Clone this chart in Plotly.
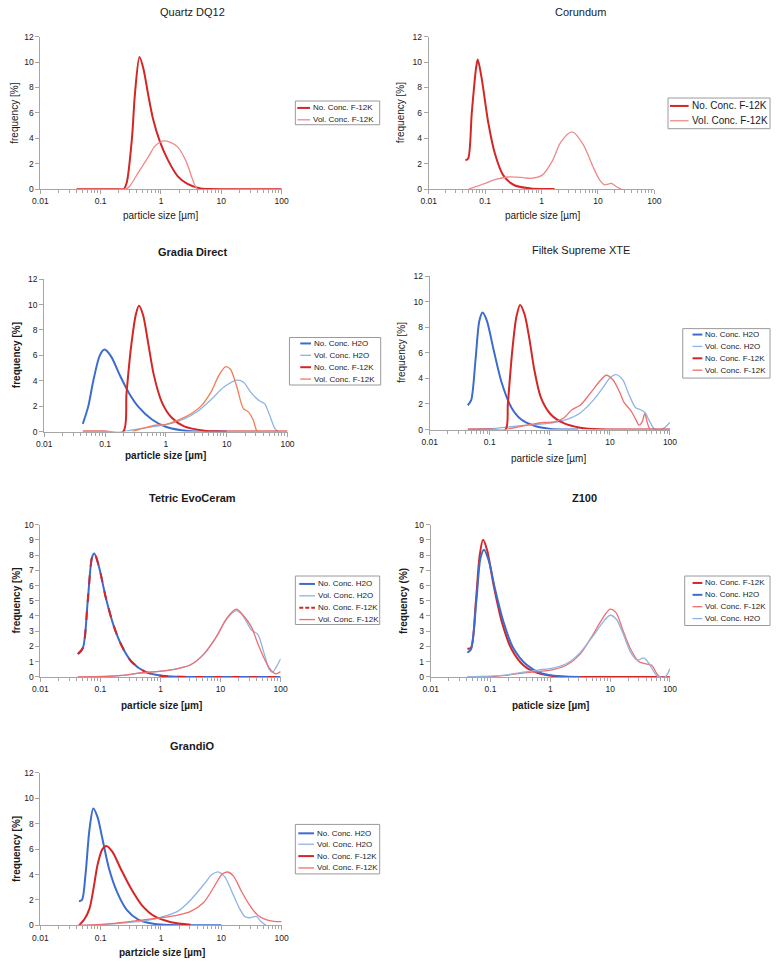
import plotly.graph_objects as go

# ---------------- data (particle size in µm, frequency in %) ----------------
# Quartz DQ12
q_no_f12k_x = [0.04, 0.1, 0.2, 0.24, 0.27, 0.33, 0.37, 0.44, 0.51, 0.61, 0.74, 0.95, 1.3, 1.9, 2.75, 4.5, 10, 30, 100]
q_no_f12k_y = [0, 0, 0, 0, 0.5, 4.0, 7.5, 10.4, 9.5, 7.5, 5.5, 3.8, 2.3, 1.0, 0.4, 0.05, 0, 0, 0]
q_vol_f12k_x = [0.04, 0.1, 0.2, 0.26, 0.3, 0.42, 0.61, 0.8, 1.05, 1.4, 1.9, 2.6, 3.5, 4.0, 10, 30, 100]
q_vol_f12k_y = [0, 0, 0, 0, 0.2, 1.3, 2.5, 3.4, 3.78, 3.7, 3.3, 2.2, 0.5, 0, 0, 0, 0]

# Corundum
c_no_f12k_x = [0.0448, 0.05, 0.058, 0.069, 0.074, 0.087, 0.114, 0.149, 0.209, 0.33, 0.65, 1.0, 1.7]
c_no_f12k_y = [2.27, 2.4, 6.0, 9.5, 10.2, 8.7, 5.2, 2.8, 1.1, 0.3, 0.05, 0.01, 0]
c_vol_f12k_x = [0.051, 0.1, 0.149, 0.255, 0.44, 0.65, 1.03, 1.55, 2.2, 3.5, 5.5, 8.3, 10.8, 13.2, 17.3, 21, 25.9]
c_vol_f12k_y = [0, 0.45, 0.75, 0.95, 0.92, 0.85, 1.1, 2.2, 3.7, 4.5, 3.5, 1.7, 0.7, 0.33, 0.45, 0.2, 0]

# Gradia Direct
g_no_h2o_x = [0.043, 0.053, 0.064, 0.082, 0.098, 0.126, 0.172, 0.249, 0.36, 0.59, 0.97, 1.8, 2.6, 5, 10]
g_no_h2o_y = [0.6, 2.0, 4.0, 6.0, 6.45, 5.9, 4.5, 3.0, 1.9, 0.95, 0.4, 0.1, 0.02, 0, 0]
g_vol_h2o_x = [0.19, 0.36, 0.67, 1.24, 2.0, 3.35, 5.5, 9.0, 14.7, 18.8, 25.7, 35, 42, 50.7, 61, 69]
g_vol_h2o_y = [0, 0.2, 0.4, 0.65, 1.0, 1.6, 2.5, 3.5, 4.05, 3.9, 3.0, 2.4, 2.2, 1.3, 0.3, 0]
g_no_f12k_x = [0.043, 0.1, 0.199, 0.225, 0.265, 0.32, 0.36, 0.42, 0.51, 0.63, 0.86, 1.24, 2.0, 4.3, 7.9, 20, 100]
g_no_f12k_y = [0, 0, 0, 3.0, 6.5, 9.2, 9.9, 9.2, 7.0, 4.5, 2.3, 1.1, 0.4, 0.07, 0.01, 0, 0]
g_vol_f12k_x = [0.28, 0.46, 0.67, 0.97, 1.59, 2.6, 3.78, 5.5, 7.4, 9.5, 11.5, 14.7, 18.8, 22.7, 27.3, 30.9, 32.8]
g_vol_f12k_y = [0, 0.3, 0.5, 0.55, 0.9, 1.4, 2.0, 3.1, 4.4, 5.1, 4.9, 3.5, 1.8, 1.55, 0.9, 0.1, 0]

# Filtek Supreme XTE
f_no_h2o_x = [0.043, 0.049, 0.058, 0.067, 0.076, 0.0896, 0.115, 0.157, 0.23, 0.33, 0.55, 1.03, 1.93, 3.0]
f_no_h2o_y = [1.9, 2.3, 5.5, 8.5, 9.15, 8.5, 6.3, 3.7, 1.7, 0.8, 0.3, 0.05, 0, 0]
f_vol_h2o_x = [0.043, 0.095, 0.157, 0.33, 0.625, 1.17, 1.93, 3.2, 5.3, 7.7, 9.8, 12.6, 16.3, 20.9, 26.9, 32.4, 39, 44, 53.5, 58, 73, 100]
f_vol_h2o_y = [0, 0.05, 0.15, 0.3, 0.4, 0.55, 0.8, 1.3, 2.3, 3.3, 4.0, 4.3, 3.9, 2.7, 1.7, 1.55, 1.3, 0.8, 0.1, 0, 0, 0.55]
f_no_f12k_x = [0.043, 0.1, 0.183, 0.2, 0.235, 0.277, 0.32, 0.38, 0.46, 0.55, 0.71, 1.03, 1.7, 3.2, 6.8, 20, 100]
f_no_f12k_y = [0, 0, 0, 2.0, 6.0, 8.8, 9.75, 9.0, 7.0, 4.7, 2.5, 1.2, 0.5, 0.15, 0.02, 0, 0]
f_vol_f12k_x = [0.18, 0.33, 0.55, 0.8, 1.17, 1.7, 2.33, 3.2, 4.65, 6.8, 8.7, 11.2, 14.3, 17.3, 22.2, 26.9, 30.4, 34.4, 38, 41.6, 47, 100]
f_vol_f12k_y = [0, 0.25, 0.45, 0.55, 0.6, 0.9, 1.55, 1.9, 2.8, 3.8, 4.25, 3.9, 3.0, 2.1, 1.5, 0.8, 0.35, 0.6, 1.25, 0.6, 0, 0]

# Tetric EvoCeram
t_no_h2o_x = [0.042, 0.051, 0.0615, 0.072, 0.079, 0.095, 0.123, 0.168, 0.229, 0.33, 0.55, 1.03, 1.93, 5, 20, 100]
t_no_h2o_y = [1.5, 1.9, 5.0, 7.8, 8.1, 7.2, 5.2, 3.3, 2.0, 1.0, 0.35, 0.08, 0.01, 0, 0, 0]
t_no_f12k_x = [0.042, 0.051, 0.0615, 0.072, 0.079, 0.095, 0.123, 0.168, 0.229, 0.33, 0.55, 1.03, 1.93, 5, 20, 100]
t_no_f12k_y = [1.5, 1.9, 5.0, 7.8, 8.15, 7.2, 5.2, 3.3, 2.0, 1.0, 0.35, 0.08, 0.01, 0, 0, 0]
t_vol_h2o_x = [0.042, 0.123, 0.229, 0.43, 1.03, 1.93, 3.18, 5.26, 8.7, 12.6, 18.4, 23.7, 32.4, 41.6, 53.5, 64.6, 73, 83, 100]
t_vol_h2o_y = [0, 0.03, 0.1, 0.25, 0.38, 0.55, 0.8, 1.5, 2.7, 3.8, 4.35, 4.0, 3.1, 2.8, 1.5, 0.5, 0.3, 0.6, 1.2]
t_vol_f12k_x = [0.042, 0.123, 0.229, 0.43, 1.03, 1.93, 3.18, 5.26, 8.7, 12.6, 18.4, 23.7, 32.4, 41.6, 53.5, 64.6, 73, 83, 100]
t_vol_f12k_y = [0, 0.03, 0.1, 0.25, 0.38, 0.55, 0.8, 1.5, 2.7, 3.85, 4.45, 4.05, 3.3, 2.2, 1.2, 0.6, 0.35, 0.2, 0.35]

# Z100
z_no_f12k_x = [0.041, 0.047, 0.057, 0.066, 0.075, 0.088, 0.113, 0.155, 0.226, 0.37, 0.62, 1.16, 2.45, 10, 100]
z_no_f12k_y = [1.85, 1.9, 5.0, 8.0, 9.0, 8.3, 6.0, 3.6, 1.8, 0.7, 0.25, 0.05, 0, 0, 0]
z_no_h2o_x = [0.041, 0.047, 0.058, 0.068, 0.078, 0.094, 0.12, 0.165, 0.24, 0.40, 0.7, 1.49, 3.15]
z_no_h2o_y = [1.6, 1.8, 5.0, 7.8, 8.35, 7.6, 5.7, 3.6, 1.9, 0.8, 0.25, 0.04, 0]
z_vol_f12k_x = [0.041, 0.094, 0.175, 0.33, 0.62, 1.16, 1.91, 3.15, 5.2, 7.6, 10, 12.6, 16.2, 22.1, 30.3, 41.5, 50, 60.5, 68.5, 100]
z_vol_f12k_y = [0, 0.02, 0.1, 0.25, 0.35, 0.5, 0.8, 1.5, 2.8, 3.9, 4.45, 4.2, 3.1, 1.8, 1.0, 0.85, 0.75, 0.2, 0, 0]
z_vol_h2o_x = [0.041, 0.175, 0.33, 0.62, 1.16, 1.91, 3.15, 5.2, 7.6, 10, 12.6, 16.2, 22.1, 28.5, 36.6, 44.3, 56.8, 64, 83, 100]
z_vol_h2o_y = [0, 0.12, 0.3, 0.45, 0.6, 0.9, 1.6, 2.7, 3.6, 4.05, 3.8, 2.9, 1.6, 1.1, 1.25, 0.9, 0.2, 0, 0, 0.55]

# GrandiO
gr_no_h2o_x = [0.0436, 0.049, 0.056, 0.065, 0.0755, 0.089, 0.107, 0.137, 0.188, 0.273, 0.42, 0.79, 1.47, 3.1, 10]
gr_no_h2o_y = [1.9, 2.0, 4.0, 7.5, 9.2, 8.5, 6.8, 4.5, 2.6, 1.2, 0.45, 0.1, 0.02, 0, 0]
gr_vol_h2o_x = [0.0436, 0.121, 0.256, 0.54, 1.01, 1.89, 3.1, 5.1, 7.0, 9.0, 11.5, 15.8, 20.2, 24.4, 29.4, 37.8, 45.6, 55]
gr_vol_h2o_y = [0, 0.08, 0.2, 0.35, 0.65, 1.1, 2.0, 3.2, 4.0, 4.2, 3.8, 2.4, 1.3, 0.7, 0.6, 0.7, 0.3, 0]
gr_no_f12k_x = [0.0436, 0.054, 0.065, 0.0755, 0.089, 0.107, 0.124, 0.156, 0.213, 0.31, 0.48, 0.79, 1.47, 3.1]
gr_no_f12k_y = [0, 0.5, 1.3, 2.8, 4.8, 6.0, 6.25, 5.8, 4.5, 3.0, 1.6, 0.7, 0.25, 0.05]
gr_vol_f12k_x = [0.0436, 0.121, 0.256, 0.54, 1.01, 1.89, 3.1, 5.1, 7.5, 10.2, 12.6, 15.8, 21.5, 29.4, 40.2, 55, 75, 100]
gr_vol_f12k_y = [0, 0.1, 0.25, 0.45, 0.6, 0.8, 1.1, 1.8, 3.0, 4.0, 4.2, 3.9, 2.7, 1.6, 0.8, 0.45, 0.32, 0.3]

x_tick_vals = [0.01, 0.1, 1, 10, 100]
x_tick_text = ["0.01", "0.1", "1", "10", "100"]

# ---------------- styling ----------------
W, H = 778, 965
FONT = "Arial, Liberation Sans, sans-serif"
TXT = "#1a1a1a"
AX = "#a6a6a6"
NO_F = "#d42626"
VOL_F_LIGHT = "#ee8a8a"
VOL_F_ORANGE = "#f07d55"
VOL_F = "#ef6e6e"
NO_H = "#3c6ccf"
VOL_H = "#8fb4e3"


def px(x):
    return x / W


def py(y):
    return 1 - y / H


minor_vals = [m * 10.0 ** e for e in range(-2, 2) for m in range(2, 10)]

panels = [
    dict(title="Quartz DQ12", bold=False, box=(33, 279, 32, 186), ymax=12, dy=2,
         ylab="frequency [%]", xlab="particle size [µm]", tpos=(188, 7), xlpos=(156, 213), ylx=7,
         leg=(293, 379, 97, 121), rows=[104, 116], samp=(295, 308), lfs=8,
         traces=[("No. Conc. F-12K", q_no_f12k_x, q_no_f12k_y, NO_F, 2, "solid"),
                 ("Vol. Conc. F-12K", q_vol_f12k_x, q_vol_f12k_y, VOL_F_LIGHT, 1.3, "solid")]),
    dict(title="Corundum", bold=False, box=(429, 659, 32, 186), ymax=12, dy=2,
         ylab="frequency [%]", xlab="particle size [µm]", tpos=(584, 7), xlpos=(545, 213), ylx=401,
         leg=(673, 777, 94, 125), rows=[102, 117], samp=(675, 694), lfs=10,
         traces=[("No. Conc. F-12K", c_no_f12k_x, c_no_f12k_y, NO_F, 2, "solid"),
                 ("Vol. Conc. F-12K", c_vol_f12k_x, c_vol_f12k_y, VOL_F_LIGHT, 1.3, "solid")]),
    dict(title="Gradia Direct", bold=True, box=(37, 285, 277, 431), ymax=12, dy=2,
         ylab="frequency [%]", xlab="particle size [µm]", tpos=(188, 250), xlpos=(161, 455), ylx=9,
         leg=(287, 380, 336, 384), rows=[342, 354, 366, 378], samp=(298, 309), lfs=8,
         traces=[("No. Conc. H2O", g_no_h2o_x, g_no_h2o_y, NO_H, 2, "solid"),
                 ("Vol. Conc. H2O", g_vol_h2o_x, g_vol_h2o_y, VOL_H, 1.3, "solid"),
                 ("No. Conc. F-12K", g_no_f12k_x, g_no_f12k_y, NO_F, 2, "solid"),
                 ("Vol. Conc. F-12K", g_vol_f12k_x, g_vol_f12k_y, VOL_F_ORANGE, 1.3, "solid")]),
    dict(title="Filtek Supreme XTE", bold=False, box=(430, 675, 274, 429), ymax=12, dy=2,
         ylab="frequency [%]", xlab="particle size [µm]", tpos=(584, 248), xlpos=(551, 458), ylx=402,
         leg=(688, 777, 327, 377), rows=[333, 345, 357, 369], samp=(698, 708), lfs=8,
         traces=[("No. Conc. H2O", f_no_h2o_x, f_no_h2o_y, NO_H, 2, "solid"),
                 ("Vol. Conc. H2O", f_vol_h2o_x, f_vol_h2o_y, VOL_H, 1.3, "solid"),
                 ("No. Conc. F-12K", f_no_f12k_x, f_no_f12k_y, NO_F, 2, "solid"),
                 ("Vol. Conc. F-12K", f_vol_f12k_x, f_vol_f12k_y, VOL_F, 1.3, "solid")]),
    dict(title="Tetric EvoCeram", bold=True, box=(33, 278, 525, 679), ymax=10, dy=1,
         ylab="frequency [%]", xlab="particle size [µm]", tpos=(188, 498), xlpos=(157, 708), ylx=9,
         leg=(293, 379, 577, 626), rows=[585, 597, 609, 621], samp=(297, 313), lfs=8,
         traces=[("No. Conc. H2O", t_no_h2o_x, t_no_h2o_y, NO_H, 2, "solid"),
                 ("Vol. Conc. H2O", t_vol_h2o_x, t_vol_h2o_y, VOL_H, 1.3, "solid"),
                 ("No. Conc. F-12K", t_no_f12k_x, t_no_f12k_y, NO_F, 2, "dash"),
                 ("Vol. Conc. F-12K", t_vol_f12k_x, t_vol_f12k_y, VOL_F, 1.3, "solid")]),
    dict(title="Z100", bold=True, box=(431, 675, 525, 679), ymax=10, dy=1,
         ylab="frequency (%)", xlab="paticle size [µm]", tpos=(588, 498), xlpos=(553, 708), ylx=404,
         leg=(690, 777, 577, 627), rows=[584, 596, 608, 620], samp=(698, 708), lfs=8,
         traces=[("No. Conc. F-12K", z_no_f12k_x, z_no_f12k_y, NO_F, 2, "solid"),
                 ("No. Conc. H2O", z_no_h2o_x, z_no_h2o_y, NO_H, 2, "solid"),
                 ("Vol. Conc. F-12K", z_vol_f12k_x, z_vol_f12k_y, VOL_F, 1.3, "solid"),
                 ("Vol. Conc. H2O", z_vol_h2o_x, z_vol_h2o_y, VOL_H, 1.3, "solid")]),
    dict(title="GrandiO", bold=True, box=(33, 279, 776, 930), ymax=12, dy=2,
         ylab="frequency [%]", xlab="partzicle size [µm]", tpos=(188, 749), xlpos=(157, 957), ylx=8,
         leg=(293, 379, 828, 878), rows=[837, 848, 860, 872], samp=(296, 312), lfs=8,
         traces=[("No. Conc. H2O", gr_no_h2o_x, gr_no_h2o_y, NO_H, 2, "solid"),
                 ("Vol. Conc. H2O", gr_vol_h2o_x, gr_vol_h2o_y, VOL_H, 1.3, "solid"),
                 ("No. Conc. F-12K", gr_no_f12k_x, gr_no_f12k_y, NO_F, 2, "solid"),
                 ("Vol. Conc. F-12K", gr_vol_f12k_x, gr_vol_f12k_y, VOL_F, 1.3, "solid")]),
]

fig = go.Figure()
layout = dict(
    width=W, height=H, margin=dict(l=0, r=0, t=0, b=0),
    paper_bgcolor="white", plot_bgcolor="white", showlegend=False,
    font=dict(family=FONT, color=TXT),
)

annotations = []
shapes = []

for i, p in enumerate(panels, start=1):
    sfx = "" if i == 1 else str(i)
    x0, x1, y0, y1 = p["box"]
    layout["xaxis" + sfx] = dict(
        type="log", range=[-2, 2], domain=[px(x0), px(x1)], anchor="y" + sfx,
        showline=True, linecolor=AX, linewidth=1, ticks="outside", ticklen=4,
        tickcolor=AX, tickvals=x_tick_vals, ticktext=x_tick_text,
        tickfont=dict(size=8.5, color=TXT, family=FONT), showgrid=False, zeroline=False,
        minor=dict(ticks="outside", ticklen=3, tickcolor=AX, tickmode="array",
                   tickvals=minor_vals, showgrid=False),
    )
    layout["yaxis" + sfx] = dict(
        range=[0, p["ymax"]], domain=[py(y1), py(y0)], anchor="x" + sfx,
        showline=True, linecolor=AX, linewidth=1, ticks="outside", ticklen=4,
        tickcolor=AX, dtick=p["dy"], tick0=0, tickfont=dict(size=8.5, color=TXT, family=FONT),
        showgrid=False, zeroline=False,
    )
    for name, xs, ys, col, w, dash in p["traces"]:
        fig.add_trace(go.Scatter(
            x=xs, y=ys, mode="lines", name=name,
            line=dict(color=col, width=w, dash=dash, shape="spline", smoothing=0.8),
            xaxis="x" + sfx, yaxis="y" + sfx, hoverinfo="skip",
        ))

    def txt(s):
        return "<b>%s</b>" % s if p["bold"] else s

    tx, ty = p["tpos"]
    annotations.append(dict(x=px(tx), y=py(ty), xref="paper", yref="paper", text=txt(p["title"]),
                            showarrow=False, xanchor="center", yanchor="middle",
                            font=dict(size=11, color=TXT, family=FONT)))
    lx, ly = p["xlpos"]
    annotations.append(dict(x=px(lx), y=py(ly), xref="paper", yref="paper", text=txt(p["xlab"]),
                            showarrow=False, xanchor="center", yanchor="middle",
                            font=dict(size=10, color=TXT, family=FONT)))
    annotations.append(dict(x=px(p["ylx"]), y=py((y0 + y1) / 2), xref="paper", yref="paper",
                            text=txt(p["ylab"]), textangle=-90, showarrow=False,
                            xanchor="center", yanchor="middle",
                            font=dict(size=10, color=TXT, family=FONT)))

    # legend box
    bx0, bx1, by0, by1 = p["leg"]
    shapes.append(dict(type="rect", xref="paper", yref="paper", x0=px(bx0), x1=px(bx1),
                       y0=py(by1), y1=py(by0), line=dict(color="#9a9a9a", width=1),
                       fillcolor="white", layer="above"))
    sx0, sx1 = p["samp"]
    for (name, xs, ys, col, w, dash), ry in zip(p["traces"], p["rows"]):
        shapes.append(dict(type="line", xref="paper", yref="paper", x0=px(sx0), x1=px(sx1),
                           y0=py(ry), y1=py(ry), line=dict(color=col, width=w,
                           dash="4px,2px" if dash == "dash" else "solid"), layer="above"))
        annotations.append(dict(x=px(sx1 + 1), y=py(ry), xref="paper", yref="paper", text=name,
                                showarrow=False, xanchor="left", yanchor="middle",
                                font=dict(size=p["lfs"], color=TXT, family=FONT)))

layout["annotations"] = annotations
layout["shapes"] = shapes
fig.update_layout(**layout)
fig.write_html(
    "out.html",
    config={"displayModeBar": False},
    post_script="document.body.style.margin='0px';document.body.style.overflow='hidden';",
)
